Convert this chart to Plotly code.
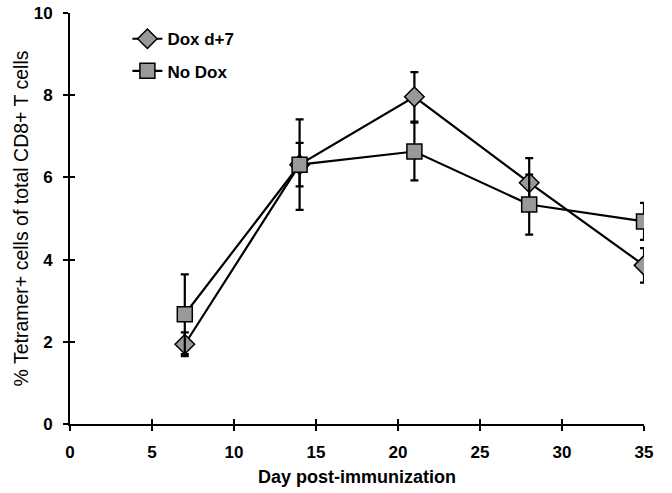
import plotly.graph_objects as go

days = [7, 14, 21, 28, 35]
dox_vals = [1.94, 6.31, 7.96, 5.87, 3.86]
dox_err = [0.29, 0.53, 0.6, 0.6, 0.42]
nodox_vals = [2.67, 6.31, 6.63, 5.34, 4.93]
nodox_err = [0.97, 1.1, 0.7, 0.73, 0.45]
series_names = ["Dox d+7", "No Dox"]
x_ticks = [0, 5, 10, 15, 20, 25, 30, 35]
y_ticks = [0, 2, 4, 6, 8, 10]

FONT = "Liberation Sans, Arial, sans-serif"
fill = "#999999"

fig = go.Figure()
fig.add_trace(go.Scatter(
    x=days, y=dox_vals, name=series_names[0], mode="lines+markers", legendgroup="a",
    line=dict(color="black", width=2.2),
    marker=dict(symbol="diamond", size=15, color=fill, line=dict(color="black", width=1.5)),
    error_y=dict(type="data", array=dox_err, color="black", thickness=2.2, width=4),
))
fig.add_trace(go.Scatter(
    x=days, y=nodox_vals, name=series_names[1], mode="lines+markers", legendgroup="b",
    line=dict(color="black", width=2.2),
    marker=dict(symbol="square", size=15, color=fill, line=dict(color="black", width=1.5)),
    error_y=dict(type="data", array=nodox_err, color="black", thickness=2.2, width=4),
))

axis_common = dict(showgrid=False, zeroline=False, showline=True, linecolor="black", linewidth=2,
                   ticks="outside", ticklen=5, tickwidth=2, tickcolor="black", automargin=False,
                   ticklabelstandoff=7,
                   tickfont=dict(family=FONT, size=17, color="black", weight="bold"))

fig.update_layout(
    width=672, height=493, autosize=False,
    margin=dict(l=70, r=28, t=13, b=69),
    paper_bgcolor="white", plot_bgcolor="white",
    font=dict(family=FONT, color="black"),
    xaxis=dict(range=[0, 35], tickvals=x_ticks,
               title=dict(text="Day post-immunization", font=dict(family=FONT, size=18, weight="bold"), standoff=9),
               **axis_common),
    yaxis=dict(range=[0, 10], tickvals=y_ticks,
               title=dict(text="% Tetramer+ cells of total CD8+ T cells", font=dict(family=FONT, size=19.5), standoff=0),
               **axis_common),
    xaxis2=dict(overlaying="x", range=[0, 35], tickvals=x_ticks, showticklabels=False,
                ticks="inside", ticklen=5, tickwidth=2, tickcolor="black", showgrid=False, zeroline=False,
                showline=False, side="bottom"),
    yaxis2=dict(overlaying="y", range=[0, 10], tickvals=y_ticks, showticklabels=False,
                ticks="inside", ticklen=5, tickwidth=2, tickcolor="black", showgrid=False, zeroline=False,
                showline=False, side="left"),
    legend=dict(x=0.1, y=0.98, xanchor="left", yanchor="top", bgcolor="rgba(0,0,0,0)",
                font=dict(family=FONT, size=17, weight="bold"), itemwidth=30, tracegroupgap=7,
                traceorder="grouped"),
    showlegend=True,
)
fig.add_trace(go.Scatter(x=[0], y=[0], xaxis="x2", yaxis="y2", mode="markers",
                         marker=dict(opacity=0), showlegend=False, hoverinfo="skip"))

fig.write_html("out.html", config={"displayModeBar": False},
               post_script="document.body.style.margin='0';")
